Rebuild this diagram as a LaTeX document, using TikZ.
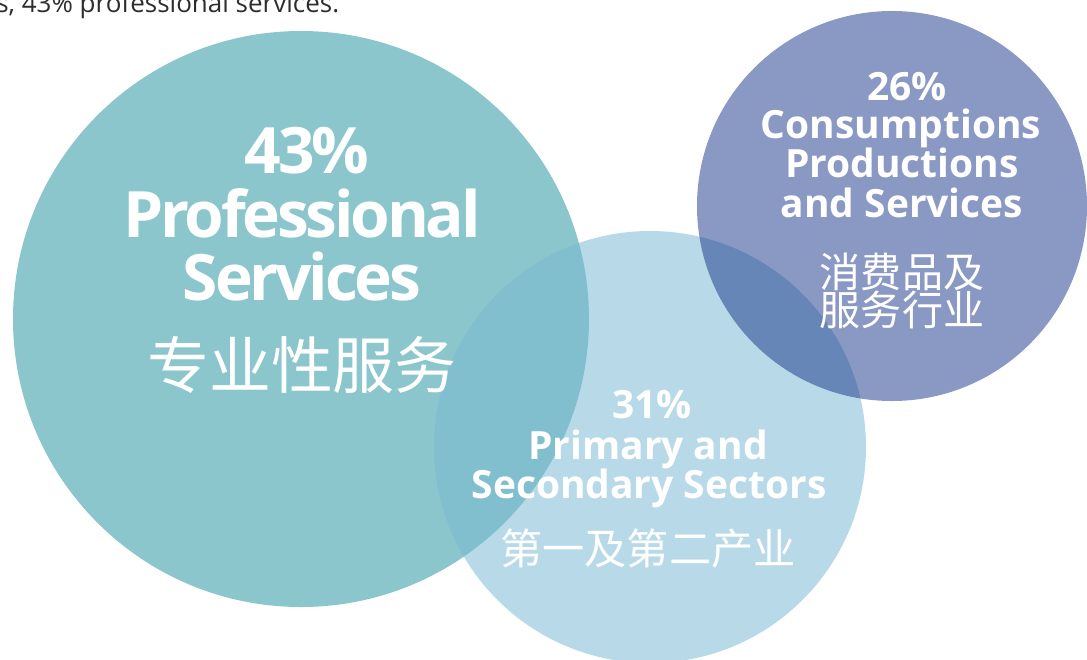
\documentclass[tikz,border=0pt]{standalone}
\usepackage{fontspec}
\setmainfont{Open Sans}
\newfontfamily\headfont[LetterSpace=-5]{Open Sans}
\newfontfamily\cjk{Noto Sans CJK SC}
\usetikzlibrary{positioning}
\definecolor{tealdisc}{RGB}{138,198,203}
\definecolor{skydisc}{RGB}{121,185,211}
\definecolor{navydisc}{RGB}{21,51,137}
\definecolor{bodytext}{RGB}{45,45,45}

\begin{document}
\begin{tikzpicture}[x=0.25mm,y=-0.25mm,
    disc/.style={circle,draw=none,inner sep=0pt},
    headline/.style={text=white,inner sep=0pt,anchor=base,font=\bfseries\fontsize{#1}{#1}\selectfont},
    bighead/.style={headline=#1,font=\headfont\bfseries\fontsize{#1}{#1}\selectfont},
    cnline/.style={text=white,inner sep=0pt,font=\cjk\fontsize{#1}{#1}\selectfont}]
  \useasboundingbox (0,0) rectangle (1087,659);
  % the three sector discs
  \node[disc,fill=tealdisc,minimum size=144mm] (prof) at (301,319) {};
  \node[disc,fill=skydisc,fill opacity=0.53,minimum size=108mm] (prim) at (650,447) {};
  \node[disc,fill=navydisc,fill opacity=0.5,minimum size=97.5mm] (cons) at (892,206) {};
  % lead-in sentence
  \node[anchor=base west,inner sep=0pt,text=bodytext,font=\fontsize{18.5}{18.5}\selectfont] (intro) at (-4,12) {s, 43\% professional services.};
  % professional services
  \node[bighead=45.5] (prof-pct) at (307,173) {43\%};
  \node[bighead=45.5] (prof-l1) at (302,237) {Professional};
  \node[bighead=45.5] (prof-l2) at (302,300) {Services};
  \node[cnline=44] (prof-cn) at (302,365) {专业性服务};
  % primary and secondary sectors
  \node[headline=27.7] (prim-pct) at (652,418) {31\%};
  \node[headline=27.7] (prim-l1) at (648,459) {Primary and};
  \node[headline=27.7] (prim-l2) at (649,498) {Secondary Sectors};
  \node[cnline=30] (prim-cn) at (648,549) {第一及第二产业};
  % consumptions
  \node[headline=27.7] (cons-pct) at (907,100) {26\%};
  \node[headline=27.7] (cons-l1) at (901,138) {Consumptions};
  \node[headline=27.7] (cons-l2) at (902,177) {Productions};
  \node[headline=27.7] (cons-l3) at (902,217) {and Services};
  \node[cnline=29.2] (cons-cn1) at (902,272) {消费品及};
  \node[cnline=29.2] (cons-cn2) at (902,310) {服务行业};
\end{tikzpicture}
\end{document}
